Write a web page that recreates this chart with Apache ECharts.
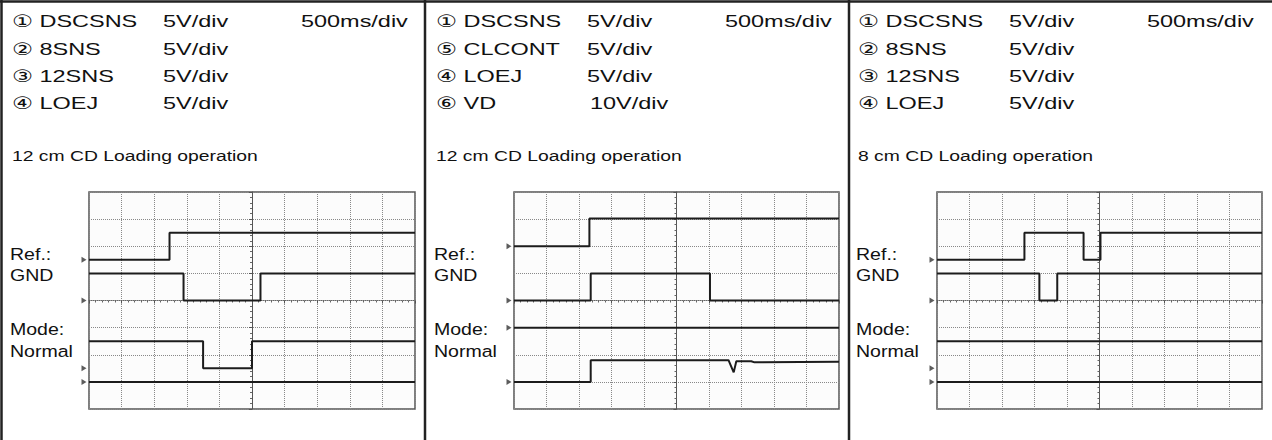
<!DOCTYPE html>
<html>
<head>
<meta charset="utf-8">
<script src="https://cdn.jsdelivr.net/npm/echarts@6/dist/echarts.min.js"></script>
<style>
  html, body { margin: 0; padding: 0; background: #fff; }
  #chart { width: 1272px; height: 440px; }
</style>
</head>
<body>
<div id="chart"></div>
<script>
// traces in divisions: x -5..5 (500ms/div), y -4..4
const p1Dscsns = [[-5, 1.5], [-2.53, 1.5], [-2.53, 2.5], [5, 2.5]];
const p1Sns8 = [[-5, 1], [-2.1, 1], [-2.1, 0], [0.26, 0], [0.26, 1], [5, 1]];
const p1Sns12 = [[-5, -1.5], [-1.5, -1.5], [-1.5, -2.5], [0, -2.5], [0, -1.5], [5, -1.5]];
const p1Loej = [[-5, -3], [5, -3]];
const p1Ground = [1.5, 0, -2.5, -3];

const p2Dscsns = [[-5, 2], [-2.68, 2], [-2.68, 3.02], [5, 3.02]];
const p2Clcont = [[-5, 0], [-2.64, 0], [-2.64, 1], [1.03, 1], [1.03, 0], [5, 0]];
const p2Loej = [[-5, -1], [5, -1]];
const p2Vd = [[-5, -3], [-2.64, -3], [-2.64, -2.2], [1.6, -2.2], [1.76, -2.65], [1.84, -2.24], [2.3, -2.24], [2.4, -2.28], [5, -2.26]];
const p2Ground = [2, 0, -1, -3];

const p3Dscsns = [[-5, 1.5], [-2.31, 1.5], [-2.31, 2.5], [-0.49, 2.5], [-0.49, 1.5], [0.03, 1.5], [0.03, 2.5], [5, 2.5]];
const p3Sns8 = [[-5, 1], [-1.85, 1], [-1.85, 0], [-1.3, 0], [-1.3, 1], [5, 1]];
const p3Sns12 = [[-5, -1.5], [5, -1.5]];
const p3Loej = [[-5, -3], [5, -3]];
const p3Ground = [1.5, 0, -2.5, -3];

const p1Names = ['① DSCSNS', '② 8SNS', '③ 12SNS', '④ LOEJ'];
const p1Scales = ['5V/div', '5V/div', '5V/div', '5V/div'];
const p2Names = ['① DSCSNS', '⑤ CLCONT', '④ LOEJ', '⑥ VD'];
const p2Scales = ['5V/div', '5V/div', '5V/div', '10V/div'];
const p3Names = ['① DSCSNS', '② 8SNS', '③ 12SNS', '④ LOEJ'];
const p3Scales = ['5V/div', '5V/div', '5V/div', '5V/div'];
const captions = ['12 cm CD Loading operation', '12 cm CD Loading operation', '8 cm CD Loading operation'];
const timeBase = '500ms/div';
const sideLabels = ['Ref.:', 'GND', 'Mode:', 'Normal'];

const FONT = "'Liberation Sans', 'DejaVu Sans', sans-serif";
const INK = '#1c1c1c';

const panels = [
  { x: 0, grid: { left: 89, width: 326 }, names: p1Names, scales: p1Scales, traces: [p1Dscsns, p1Sns8, p1Sns12, p1Loej], ground: p1Ground },
  { x: 424, grid: { left: 514, width: 325 }, names: p2Names, scales: p2Scales, traces: [p2Dscsns, p2Clcont, p2Loej, p2Vd], ground: p2Ground },
  { x: 846, grid: { left: 937, width: 325 }, names: p3Names, scales: p3Scales, traces: [p3Dscsns, p3Sns8, p3Sns12, p3Loej], ground: p3Ground }
];

function txt(x, y, text, size, sx) {
  return {
    type: 'text', x: x, y: y, scaleX: sx, silent: true,
    style: { text: text, font: size + 'px ' + FONT, fill: '#111', textVerticalAlign: 'middle', textAlign: 'left' }
  };
}

const graphic = [];
const rowY = [21, 48.5, 76, 103];
panels.forEach((p, i) => {
  p.names.forEach((n, r) => {
    graphic.push(txt(p.x + 12, rowY[r], n, 17, 1.38));
    const sx = p.scales[r].length > 6 ? 3 : 0;
    graphic.push(txt(p.x + 163 + sx, rowY[r], p.scales[r], 17, 1.38));
  });
  graphic.push(txt(p.x + 301, rowY[0], timeBase, 17, 1.38));
  graphic.push(txt(p.x + 12, 156, captions[i], 14, 1.38));
  [254, 275, 329, 351].forEach((y, k) => {
    graphic.push(txt(p.x + 10, y, sideLabels[k], 17, 1.15));
  });
});
// frame and dividers
[[0, 1.5, 1272, 1.5], [1.5, 0, 1.5, 440], [425, 0, 425, 440], [849, 0, 849, 440]].forEach(s => {
  graphic.push({ type: 'line', silent: true, shape: { x1: s[0], y1: s[1], x2: s[2], y2: s[3] }, style: { stroke: '#222', lineWidth: 2.5 } });
});

const chart = echarts.init(document.getElementById('chart'), null, { renderer: 'svg' });

const grid = [], xAxis = [], yAxis = [], series = [];
panels.forEach((p, i) => {
  grid.push({ left: p.grid.left, width: p.grid.width, top: 192, height: 217, show: true, borderColor: '#555', borderWidth: 1.5, backgroundColor: '#fcfcfc' });
  xAxis.push({
    type: 'value', gridIndex: i, min: -5, max: 5, interval: 1,
    axisLine: { onZero: true, lineStyle: { color: '#666', width: 1, type: 'dotted' } },
    axisTick: { show: true, length: 3, lineStyle: { color: '#555' } },
    minorTick: { show: true, splitNumber: 5, length: 2, lineStyle: { color: '#666' } },
    axisLabel: { show: false },
    splitLine: { show: true, lineStyle: { color: '#888', type: 'dotted', width: 1 } }
  });
  yAxis.push({
    type: 'value', gridIndex: i, min: -4, max: 4, interval: 1,
    axisLine: { onZero: true, lineStyle: { color: '#555', width: 1 } },
    axisTick: { show: true, length: 3, lineStyle: { color: '#555' } },
    minorTick: { show: true, splitNumber: 5, length: 2, lineStyle: { color: '#666' } },
    axisLabel: { show: false },
    splitLine: { show: true, lineStyle: { color: '#888', type: 'dotted', width: 1 } }
  });
  p.traces.forEach(t => {
    series.push({
      type: 'line', xAxisIndex: i, yAxisIndex: i, data: t, symbol: 'none', silent: true,
      lineStyle: { color: INK, width: 2 }, animation: false
    });
  });
  series.push({
    type: 'scatter', xAxisIndex: i, yAxisIndex: i, silent: true, animation: false,
    data: p.ground.map(g => [-5, g]),
    symbol: 'triangle', symbolRotate: -90, symbolSize: [6, 5], symbolOffset: [-5, 0],
    itemStyle: { color: '#333' }
  });
});

chart.setOption({
  animation: false,
  grid: grid,
  xAxis: xAxis,
  yAxis: yAxis,
  series: series,
  graphic: graphic
});
</script>
</body>
</html>
